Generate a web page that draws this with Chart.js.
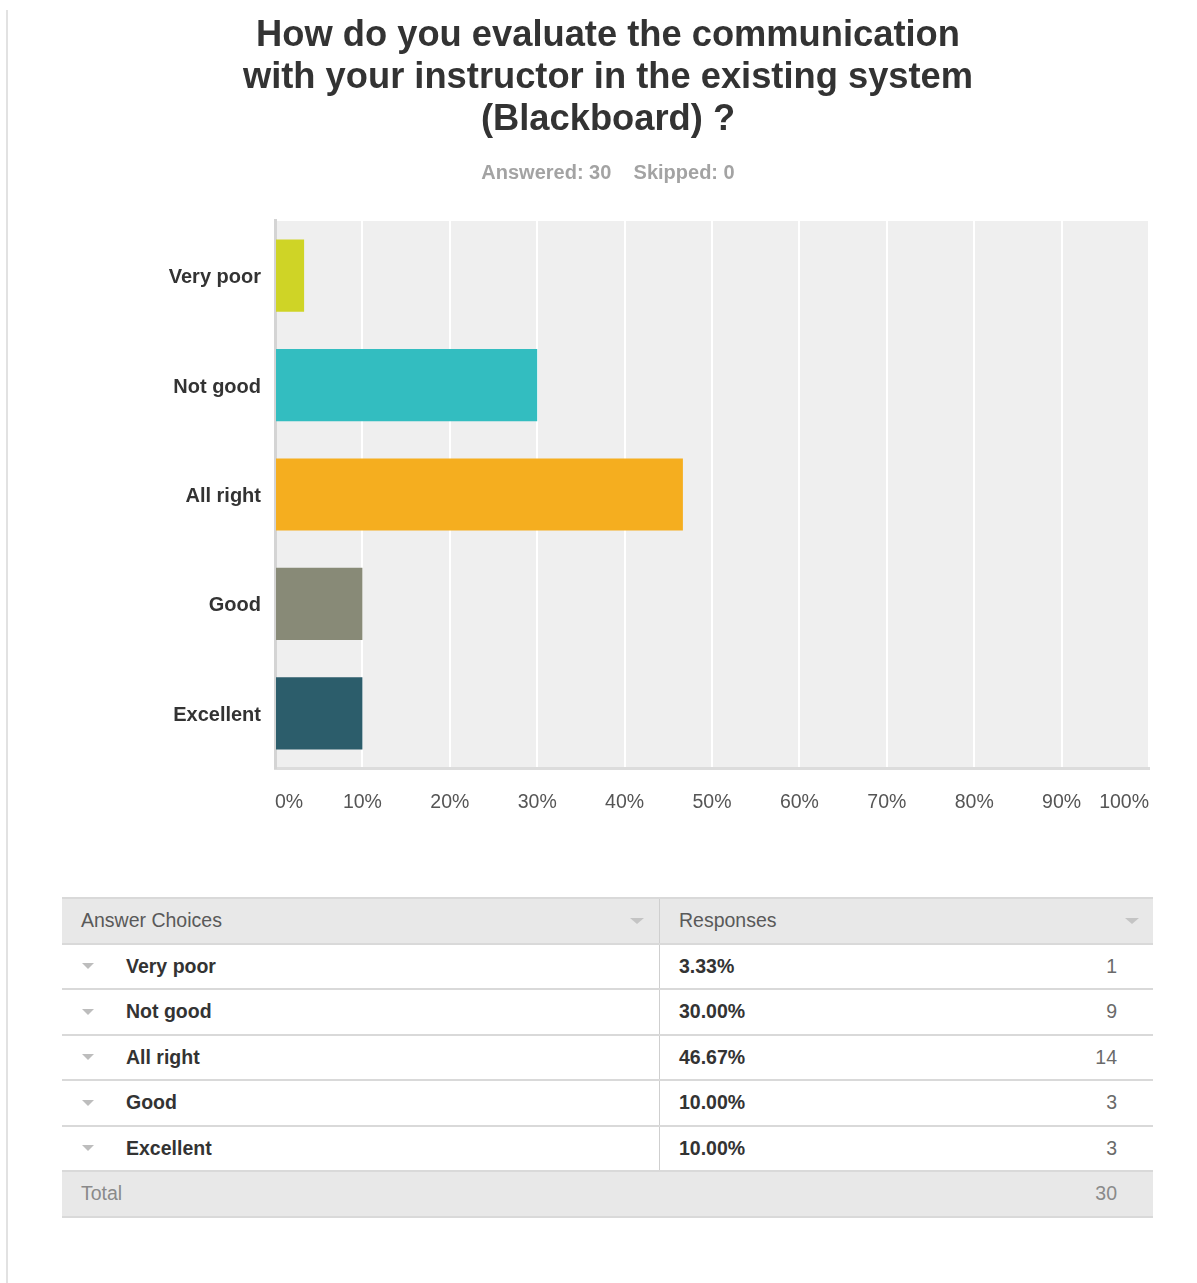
<!DOCTYPE html>
<html>
<head>
<meta charset="utf-8">
<script src="https://cdn.jsdelivr.net/npm/chart.js@4"></script>
<style>
  html, body { margin: 0; padding: 0; background: #fff; }
  body { width: 1197px; height: 1283px; position: relative; overflow: hidden;
         font-family: "Liberation Sans", Arial, Helvetica, sans-serif; }
  .frame { position: absolute; left: 6px; top: 10px; bottom: 0; width: 0; border-left: 2px solid #e2e2e2; }
  #chartBox { position: absolute; left: 0; top: 0; width: 1197px; height: 860px; }
  table.summary { position: absolute; left: 62px; top: 897px; width: 1091px; border-collapse: collapse;
                  font-size: 19.5px; }
  table.summary td { height: 43.5px; padding: 0; border-top: 2px solid #d9d9d9; border-bottom: 2px solid #d9d9d9; vertical-align: middle; }
  table.summary tr.head td, table.summary tr.total td { background: #e8e8e8; color: #595959; }
  td.choice { width: 597px; border-right: 1px solid #cfcfcf; position: relative; }
  td.choice .arrow { position: absolute; left: 20px; top: 50%; margin-top: -3px; width: 0; height: 0;
                     border-left: 6px solid transparent; border-right: 6px solid transparent; border-top: 6px solid #bdbdbd; }
  td.choice .lbl { padding-left: 64px; font-weight: bold; color: #333; }
  td.pct { padding-left: 19px !important; font-weight: bold; color: #333; }
  td.cnt { text-align: right; padding-right: 36px !important; color: #6a6a6a; }
  .head td { position: relative; }
  .head .txt { padding-left: 19px; }
  .head .sort { position: absolute; top: 50%; margin-top: -3px; width: 0; height: 0;
                border-left: 7px solid transparent; border-right: 7px solid transparent; border-top: 6px solid #c4c4c4; }
</style>
</head>
<body>
<div class="frame"></div>
<div id="chartBox"><canvas id="chart"></canvas></div>
<table class="summary" id="summary"></table>
<script>
// Survey question and answer data
const questionLines = ["How do you evaluate the communication", "with your instructor in the existing system", "(Blackboard) ?"];
const answeredCount = 30;
const skippedCount = 0;
const choices = ["Very poor", "Not good", "All right", "Good", "Excellent"];
const percents = [3.33, 30.00, 46.67, 10.00, 10.00];
const counts = [1, 9, 14, 3, 3];
const barColors = ["#cfd426", "#33bdc0", "#f5ae1f", "#888a77", "#2c5d6b"];
const tickValues = [0, 10, 20, 30, 40, 50, 60, 70, 80, 90, 100];

const FONT = '"Liberation Sans", Arial, sans-serif';

// Grey plot background behind the bars
const plotBackground = {
  id: 'plotBackground',
  beforeDraw(chart) {
    const { ctx, chartArea: a } = chart;
    ctx.save();
    ctx.fillStyle = '#efefef';
    ctx.fillRect(a.left, a.top, a.right - a.left, a.bottom - a.top);
    ctx.restore();
  }
};

new Chart(document.getElementById('chart'), {
  type: 'bar',
  data: {
    labels: choices,
    datasets: [{
      data: percents,
      backgroundColor: barColors,
      borderWidth: 0,
      barPercentage: 0.66,
      categoryPercentage: 1.0
    }]
  },
  plugins: [plotBackground],
  options: {
    indexAxis: 'y',
    responsive: true,
    maintainAspectRatio: false,
    animation: false,
    layout: { padding: { left: 67, right: 48, top: 0, bottom: 0 } },
    plugins: {
      legend: { display: false },
      tooltip: { enabled: false },
      title: {
        display: true,
        text: questionLines,
        color: '#333333',
        font: { family: FONT, size: 36.3, weight: 'bold', lineHeight: 1.157 },
        padding: { top: 15, bottom: 20 }
      },
      subtitle: {
        display: true,
        text: 'Answered: ' + answeredCount + '    Skipped: ' + skippedCount,
        color: '#a3a3a3',
        font: { family: FONT, size: 20, weight: 'bold', lineHeight: 1.2 },
        padding: { top: 0, bottom: 36 }
      }
    },
    scales: {
      x: {
        min: 0,
        max: 100,
        afterBuildTicks(scale) { scale.ticks = tickValues.map(v => ({ value: v })); },
        afterFit(scale) { scale.height = 92; },
        grid: { color: '#ffffff', lineWidth: 2, drawTicks: false },
        border: { display: true, color: '#dcdcdc', width: 3 },
        ticks: {
          align: 'inner',
          padding: 23,
          color: '#555555',
          font: { family: FONT, size: 19.5 },
          callback: v => v + '%'
        }
      },
      y: {
        afterFit(scale) { scale.width = 208; },
        grid: { display: false, drawTicks: false },
        border: { display: true, color: '#d4d4d4', width: 3 },
        ticks: {
          padding: 14,
          labelOffset: 2,
          color: '#333333',
          font: { family: FONT, size: 20, weight: 'bold' }
        }
      }
    }
  }
});

// Summary table built from the same arrays
const table = document.getElementById('summary');
let html = '<tr class="head"><td class="choice" style="font-weight:normal"><span class="txt">Answer Choices</span>' +
           '<span class="sort" style="left:568px"></span></td>' +
           '<td><span class="txt">Responses</span><span class="sort" style="right:14px"></span></td></tr>';
choices.forEach((c, i) => {
  html += '<tr><td class="choice"><span class="arrow"></span><span class="lbl">' + c + '</span></td>' +
          '<td><table style="width:100%;border-collapse:collapse"><tr>' +
          '<td class="pct" style="border:none;height:auto">' + percents[i].toFixed(2) + '%</td>' +
          '<td class="cnt" style="border:none;height:auto">' + counts[i] + '</td></tr></table></td></tr>';
});
const total = counts.reduce((a, b) => a + b, 0);
html += '<tr class="total"><td colspan="2"><table style="width:100%;border-collapse:collapse"><tr>' +
        '<td style="border:none;height:auto;background:none;padding-left:19px;color:#8a8a8a">Total</td>' +
        '<td style="border:none;height:auto;background:none;text-align:right;padding-right:36px;color:#8a8a8a">' + total + '</td>' +
        '</tr></table></td></tr>';
table.innerHTML = html;
</script>
</body>
</html>
